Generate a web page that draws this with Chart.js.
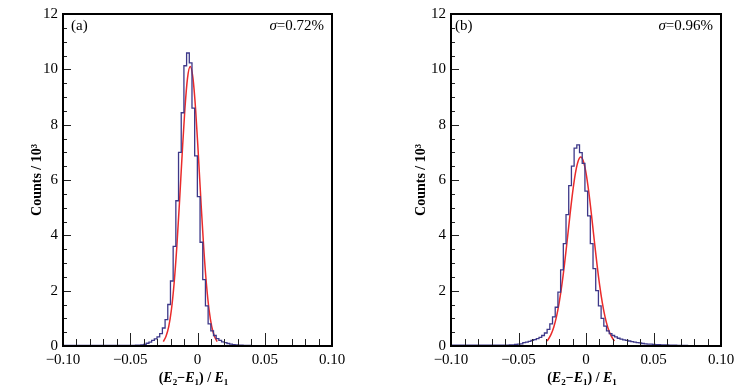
<!DOCTYPE html>
<html>
<head>
<meta charset="utf-8">
<script src="https://cdn.jsdelivr.net/npm/chart.js@4.4.1/dist/chart.umd.min.js"></script>
<style>
html, body { margin: 0; padding: 0; background: #fff; }
#wrap { position: relative; width: 756px; height: 391px; }
canvas { position: absolute; top: 0; }
#graphA { left: 0; }
#graphB { left: 378px; }
</style>
</head>
<body>
<div id="wrap">
  <canvas id="graphA" width="378" height="391"></canvas>
  <canvas id="graphB" width="378" height="391"></canvas>
</div>
<script>
// histogram bins (counts in 10^3), bin width 0.002
const binWidth = 0.002;

const histAStart = -0.0481;
const histACounts = [0.02, 0.02, 0.03, 0.03, 0.04, 0.06, 0.1, 0.14, 0.2, 0.26,
    0.33, 0.45, 0.65, 0.95, 1.5, 2.35, 3.6, 5.25, 7.0, 8.43,
    10.13, 10.59, 10.23, 8.6, 6.87, 5.4, 3.75, 2.4, 1.45, 0.8,
    0.55, 0.38, 0.27, 0.2, 0.15, 0.12, 0.09, 0.07, 0.05, 0.04,
    0.03, 0.03, 0.02, 0.02, 0.02, 0.01, 0.01];

const histBStart = -0.0608;
const histBCounts = [0.03, 0.03, 0.03, 0.04, 0.04, 0.06, 0.07, 0.08, 0.12, 0.14,
    0.17, 0.2, 0.23, 0.27, 0.31, 0.38, 0.47, 0.6, 0.8, 1.05,
    1.4, 1.95, 2.75, 3.7, 4.75, 5.8, 6.5, 7.15, 7.27, 6.99,
    6.6, 5.6, 4.7, 3.7, 2.8, 2.0, 1.45, 1.0, 0.72, 0.55,
    0.45, 0.38, 0.33, 0.28, 0.25, 0.22, 0.2, 0.18, 0.16, 0.14,
    0.12, 0.11, 0.09, 0.08, 0.07, 0.07, 0.06, 0.05, 0.05, 0.04,
    0.04, 0.04, 0.03, 0.03, 0.03, 0.02, 0.02, 0.02, 0.02];

// fitted gaussian curves
const fitAx = [-0.0254, -0.0234, -0.0214, -0.0194, -0.0174, -0.0154, -0.0134, -0.0114, -0.0094, -0.0074, -0.0054,
    -0.0034, -0.0014, 0.0006, 0.0026, 0.0046, 0.0066, 0.0086, 0.0106, 0.0126, 0.0146];
const fitAy = [0.16, 0.35, 0.70, 1.31, 2.26, 3.57, 5.19, 6.94, 8.55, 9.69, 10.1,
    9.69, 8.55, 6.94, 5.19, 3.57, 2.26, 1.31, 0.70, 0.35, 0.16];

const fitBx = [-0.0289, -0.0279, -0.0259, -0.0239, -0.0219, -0.0199, -0.0179, -0.0159, -0.0139, -0.0119, -0.0099,
    -0.0079, -0.0059, -0.0039, -0.0019, 0.0001, 0.0021, 0.0041, 0.0061, 0.0081, 0.0101, 0.0121, 0.0141,
    0.0161, 0.0181, 0.0201, 0.0211];
const fitBy = [0.18, 0.245, 0.42, 0.68, 1.05, 1.56, 2.20, 2.97, 3.83, 4.72, 5.55,
    6.23, 6.67, 6.83, 6.67, 6.23, 5.55, 4.72, 3.83, 2.97, 2.20, 1.56, 1.05,
    0.68, 0.42, 0.245, 0.18];

const xTickLabels = ['\u22120.10', '\u22120.05', '0', '0.05', '0.10'];
const yTickLabels = ['0', '2', '4', '6', '8', '10', '12'];

const serif = '"Liberation Serif", "Times New Roman", serif';

function histPoints(start, width, counts) {
    const pts = [{ x: -0.1, y: 0 }];
    counts.forEach((c, i) => pts.push({ x: start + i * width, y: c }));
    pts.push({ x: start + counts.length * width, y: 0 });
    pts.push({ x: 0.1, y: 0 });
    return pts;
}

function fitPoints(xs, ys) {
    return xs.map((x, i) => ({ x: x, y: ys[i] }));
}

function drawParts(ctx, parts, cx, baseY) {
    let total = 0;
    parts.forEach(p => { ctx.font = p[1]; total += ctx.measureText(p[0]).width; });
    let x = cx - total / 2;
    ctx.textAlign = 'left';
    ctx.textBaseline = 'alphabetic';
    parts.forEach(p => {
        ctx.font = p[1];
        ctx.fillText(p[0], x, baseY + p[2]);
        x += ctx.measureText(p[0]).width;
    });
}

const framePlugin = {
    id: 'frame',
    afterDraw(chart, args, opts) {
        const ctx = chart.ctx;
        const a = chart.chartArea;
        const xs = chart.scales.x, ys = chart.scales.y;
        ctx.save();
        ctx.strokeStyle = '#222';
        ctx.lineWidth = 1;
        ctx.beginPath();
        for (let i = -10; i <= 10; i++) {
            const px = Math.round(xs.getPixelForValue(i / 100)) + 0.5;
            const len = (i % 5 === 0) ? 13 : 7;
            ctx.moveTo(px, a.bottom);
            ctx.lineTo(px, a.bottom - len);
        }
        for (let i = 0; i <= 24; i++) {
            const py = Math.round(ys.getPixelForValue(i / 2)) + 0.5;
            const len = (i % 4 === 0) ? 8 : 4;
            ctx.moveTo(a.left, py);
            ctx.lineTo(a.left + len, py);
        }
        ctx.stroke();

        ctx.strokeStyle = '#000';
        ctx.lineWidth = 2;
        ctx.strokeRect(a.left, a.top, a.right - a.left, a.bottom - a.top);

        ctx.fillStyle = '#000';
        // panel tag and sigma
        ctx.font = '15px ' + serif;
        ctx.textAlign = 'left';
        ctx.textBaseline = 'alphabetic';
        ctx.fillText(opts.tag, a.left + opts.tagDx, 30);
        ctx.font = '15px ' + serif;
        const rest = '=' + opts.sigma;
        const wRest = ctx.measureText(rest).width;
        ctx.textAlign = 'right';
        ctx.fillText(rest, a.right - 8, 30);
        ctx.font = 'italic 15px ' + serif;
        ctx.fillText('\u03c3', a.right - 8 - wRest, 30);

        // x title
        const b = 'bold 14px ' + serif, bi = 'italic bold 14px ' + serif, sub = 'bold 9px ' + serif;
        drawParts(ctx, [['(', b, 0], ['E', bi, 0], ['2', sub, 3], ['\u2212', b, 0], ['E', bi, 0], ['1', sub, 3],
            [') / ', b, 0], ['E', bi, 0], ['1', sub, 3]], (a.left + a.right) / 2 - 4, 382);

        // y title
        ctx.translate(opts.yTitleX, (a.top + a.bottom) / 2);
        ctx.rotate(-Math.PI / 2);
        ctx.font = 'bold 14px ' + serif;
        ctx.textAlign = 'center';
        ctx.textBaseline = 'middle';
        ctx.fillText('Counts / 10\u00b3', 0, 0);
        ctx.restore();
    }
};

function rendering(id, hist, fit, box, frameOpts) {
    const ctx = document.getElementById(id).getContext('2d');
    const tickFont = { family: serif, size: 15 };
    return new Chart(ctx, {
        type: 'line',
        data: {
            datasets: [{
                label: 'Histogram',
                data: hist,
                borderColor: '#3d3889',
                borderWidth: 1.3,
                pointRadius: 0,
                stepped: 'after',
                fill: false
            },
            {
                label: 'Fit',
                data: fit,
                borderColor: '#ea2b2b',
                borderWidth: 1.5,
                pointRadius: 0,
                cubicInterpolationMode: 'monotone',
                fill: false
            }]
        },
        options: {
            responsive: false,
            animation: false,
            layout: { padding: { left: 0, top: box.top, right: box.right, bottom: 0 } },
            plugins: {
                legend: { display: false },
                tooltip: { enabled: false },
                frame: frameOpts
            },
            scales: {
                x: {
                    type: 'linear',
                    min: -0.1,
                    max: 0.1,
                    afterFit: s => { s.height = box.bottom; },
                    grid: { display: false, drawTicks: false },
                    border: { display: false },
                    ticks: {
                        stepSize: 0.05,
                        padding: 5,
                        maxRotation: 0,
                        autoSkip: false,
                        color: '#000',
                        font: tickFont,
                        callback: (v, i) => xTickLabels[i]
                    }
                },
                y: {
                    min: 0,
                    max: 12,
                    afterFit: s => { s.width = box.left; },
                    grid: { display: false, drawTicks: false },
                    border: { display: false },
                    ticks: {
                        stepSize: 2,
                        padding: 5,
                        color: '#000',
                        font: tickFont,
                        callback: (v, i) => yTickLabels[i]
                    }
                }
            }
        },
        plugins: [framePlugin]
    });
}

rendering('graphA', histPoints(histAStart, binWidth, histACounts), fitPoints(fitAx, fitAy),
    { left: 63, right: 46, top: 12, bottom: 45 },
    { tag: '(a)', tagDx: 8, sigma: '0.72%', yTitleX: 37 });

rendering('graphB', histPoints(histBStart, binWidth, histBCounts), fitPoints(fitBx, fitBy),
    { left: 73, right: 35, top: 12, bottom: 45 },
    { tag: '(b)', tagDx: 4, sigma: '0.96%', yTitleX: 43 });
</script>
</body>
</html>
